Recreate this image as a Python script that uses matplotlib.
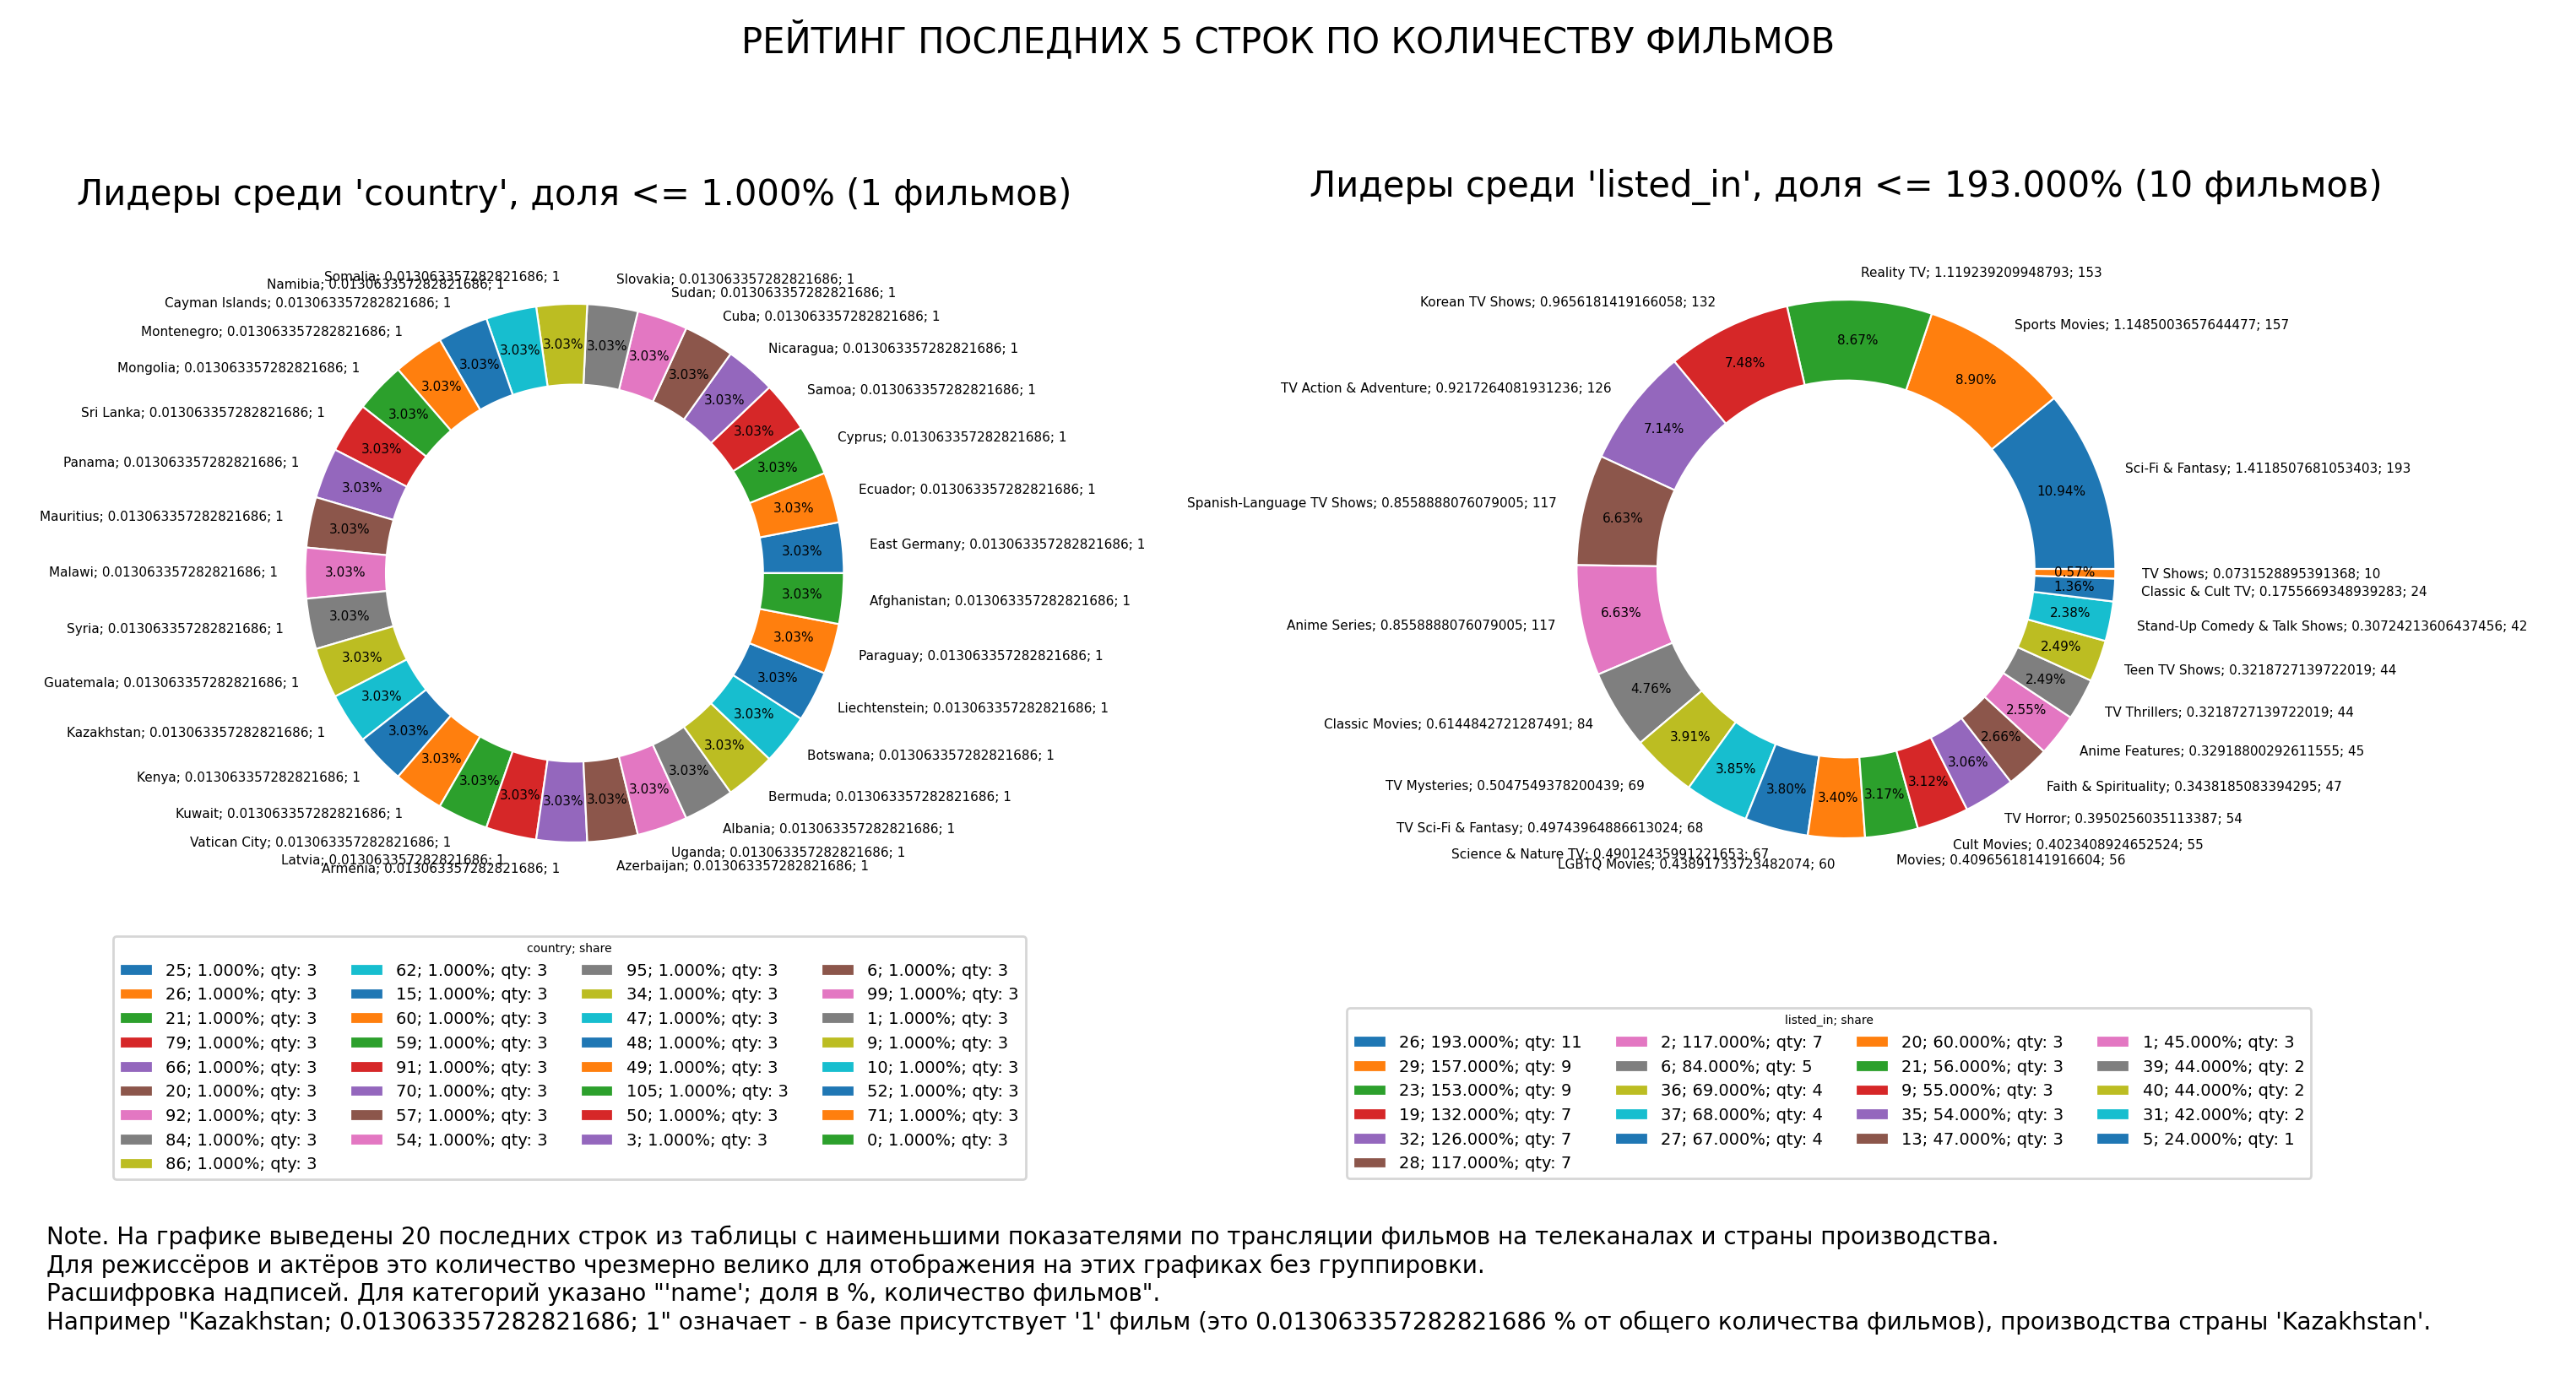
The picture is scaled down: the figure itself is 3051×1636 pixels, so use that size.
import matplotlib
matplotlib.use("Agg")
import matplotlib.pyplot as plt

countries = ["East Germany","Ecuador","Cyprus","Samoa","Nicaragua","Cuba","Sudan","Slovakia","Somalia",
             "Namibia","Cayman Islands","Montenegro","Mongolia","Sri Lanka","Panama","Mauritius","Malawi",
             "Syria","Guatemala","Kazakhstan","Kenya","Kuwait","Vatican City","Latvia","Armenia","Azerbaijan",
             "Uganda","Albania","Bermuda","Botswana","Liechtenstein","Paraguay","Afghanistan"]
country_counts = [1]*33
country_share = "0.013063357282821686"
country_legend_ids = [25,26,21,79,66,20,92,84,86,62,15,60,59,91,70,57,54,95,34,47,48,49,105,50,3,6,99,1,9,10,52,71,0]

genres = ["Sci-Fi & Fantasy","Sports Movies","Reality TV","Korean TV Shows","TV Action & Adventure",
          "Spanish-Language TV Shows","Anime Series","Classic Movies","TV Mysteries","TV Sci-Fi & Fantasy",
          "Science & Nature TV","LGBTQ Movies","Movies","Cult Movies","TV Horror","Faith & Spirituality",
          "Anime Features","TV Thrillers","Teen TV Shows","Stand-Up Comedy & Talk Shows","Classic & Cult TV","TV Shows"]
genre_counts = [193,157,153,132,126,117,117,84,69,68,67,60,56,55,54,47,45,44,44,42,24,10]
genre_shares = ["1.4118507681053403","1.1485003657644477","1.119239209948793","0.9656181419166058",
                "0.9217264081931236","0.8558888076079005","0.8558888076079005","0.6144842721287491",
                "0.5047549378200439","0.49743964886613024","0.49012435991221653","0.43891733723482074",
                "0.40965618141916604","0.4023408924652524","0.3950256035113387","0.3438185083394295",
                "0.32918800292611555","0.3218727139722019","0.3218727139722019","0.30724213606437456",
                "0.1755669348939283","0.0731528895391368"]
genre_legend = ["26; 193.000%; qty: 11","29; 157.000%; qty: 9","23; 153.000%; qty: 9","19; 132.000%; qty: 7",
                "32; 126.000%; qty: 7","28; 117.000%; qty: 7","2; 117.000%; qty: 7","6; 84.000%; qty: 5",
                "36; 69.000%; qty: 4","37; 68.000%; qty: 4","27; 67.000%; qty: 4","20; 60.000%; qty: 3",
                "21; 56.000%; qty: 3","9; 55.000%; qty: 3","35; 54.000%; qty: 3","13; 47.000%; qty: 3",
                "1; 45.000%; qty: 3","39; 44.000%; qty: 2","40; 44.000%; qty: 2","31; 42.000%; qty: 2",
                "5; 24.000%; qty: 1"]

fig = plt.figure(figsize=(15.255, 8.18), dpi=200)
fig.suptitle("РЕЙТИНГ ПОСЛЕДНИХ 5 СТРОК ПО КОЛИЧЕСТВУ ФИЛЬМОВ", fontsize=15, y=0.985)

def make_ax(cx, cy, h=0.39):
    w = h * 8.18 / 15.255
    return fig.add_axes([cx - w/2, cy - h/2, w, h])

wp = dict(width=0.3, edgecolor="white", linewidth=0.8)

ax1 = make_ax(0.223, 0.585)
labels1 = [f"{c}; {country_share}; {n}" for c, n in zip(countries, country_counts)]
w1, _, _ = ax1.pie(country_counts, labels=labels1, autopct="%.2f%%", pctdistance=0.85,
                   wedgeprops=wp, textprops=dict(fontsize=5.5))
ax1.set_xlim(-1, 1); ax1.set_ylim(-1, 1)
ax1.set_title("Лидеры среди 'country', доля <= 1.000% (1 фильмов)", fontsize=15, pad=42)
fig.legend(w1, [f"{i}; 1.000%; qty: 3" for i in country_legend_ids], ncol=4, fontsize=7,
           title="country; share", title_fontsize=5, loc="upper center", bbox_to_anchor=(0.221, 0.328))

ax2 = make_ax(0.7166, 0.588)
labels2 = [f"{g}; {s}; {n}" for g, s, n in zip(genres, genre_shares, genre_counts)]
w2, _, _ = ax2.pie(genre_counts, labels=labels2, autopct="%.2f%%", pctdistance=0.85,
                   wedgeprops=wp, textprops=dict(fontsize=5.5))
ax2.set_xlim(-1, 1); ax2.set_ylim(-1, 1)
ax2.set_title("Лидеры среди 'listed_in', доля <= 193.000% (10 фильмов)", fontsize=15, pad=44)
fig.legend(w2[:len(genre_legend)], genre_legend, ncol=4, fontsize=7,
           title="listed_in; share", title_fontsize=5, loc="upper center", bbox_to_anchor=(0.71, 0.276))

note = ("Note. На графике выведены 20 последних строк из таблицы с наименьшими показателями по трансляции фильмов на телеканалах и страны производства.\n"
        "Для режиссёров и актёров это количество чрезмерно велико для отображения на этих графиках без группировки.\n"
        "Расшифровка надписей. Для категорий указано \"'name'; доля в %, количество фильмов\".\n"
        "Например \"Kazakhstan; 0.013063357282821686; 1\" означает - в базе присутствует '1' фильм (это 0.013063357282821686 % от общего количества фильмов), производства страны 'Kazakhstan'.")
fig.text(0.018, 0.113, note, fontsize=10, va="top", ha="left", linespacing=1.25)

fig.savefig("out.png", dpi=200)
